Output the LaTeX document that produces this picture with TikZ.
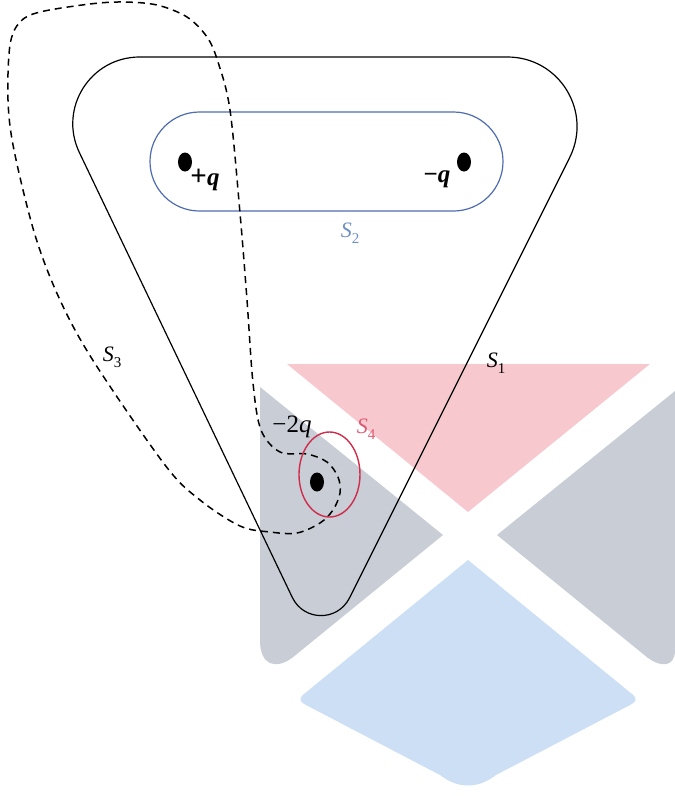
\documentclass[tikz,border=0pt]{standalone}
\usepackage{fontspec}
\setmainfont{Liberation Serif}
\usetikzlibrary{calc,shapes.geometric}
\definecolor{wmpink}{RGB}{248,200,207}
\definecolor{wmgray}{RGB}{200,205,214}
\definecolor{wmblue}{RGB}{204,223,245}
\definecolor{stwoblue}{RGB}{78,108,178}
\definecolor{stwolab}{RGB}{110,145,195}
\definecolor{sfourred}{RGB}{208,44,76}
\definecolor{sfourlab}{RGB}{222,90,115}
\newcommand\surflab[2]{\textit{#1}\raisebox{-0.28em}{\fontsize{15}{15}\selectfont #2}}
\tikzset{
  surf/.style={line width=1.2pt},
  gauss/.style={line width=1.5pt, dash pattern=on 7pt off 5pt},
  charge/.style={ellipse, fill=black, inner sep=0pt, minimum width=14pt, minimum height=19pt},
  qlab/.style={inner sep=1pt, font=\fontsize{25}{30}\selectfont},
  slab/.style={inner sep=1pt, font=\fontsize{22}{26}\selectfont}
}
\begin{document}
\begin{tikzpicture}[x=1pt,y=-1pt]
\useasboundingbox (0,0) rectangle (675,796);
% watermark background
\fill[wmpink] (287,364) -- (650,364) -- (468,512) -- cycle;
\fill[wmgray] (260,387) -- (443,535) -- (292,658) .. controls (275,670) and (260,665) .. (260,640) -- cycle;
\fill[wmgray] (675,391) -- (497,535) -- (648,658) .. controls (660,667) and (675,668) .. (675,650) -- cycle;
\fill[wmblue] (468,560) -- (632,694) .. controls (638,699) and (636,702) .. (630,705) -- (496,775) .. controls (478,789) and (458,789) .. (440,775) -- (306,705) .. controls (300,702) and (298,699) .. (304,694) -- cycle;
% S1 rounded triangle
\coordinate (VTL) at (33.7,57);
\coordinate (VTR) at (620,57);
\coordinate (VB) at (320.4,656);
\coordinate (A1) at (139.7,57);
\coordinate (A2) at (507.4,57);
\coordinate (B1) at (569.6,157.7);
\coordinate (B2) at (349.5,597.9);
\coordinate (C1) at (292.3,597.4);
\coordinate (C2) at (79.4,152.6);
\draw[surf] (A1) -- (A2)
  .. controls ($(A2)!0.46!(VTR)$) and ($(B1)!0.46!(VTR)$) .. (B1)
  -- (B2)
  .. controls ($(B2)!0.41!(VB)$) and ($(C1)!0.41!(VB)$) .. (C1)
  -- (C2)
  .. controls ($(C2)!0.465!(VTL)$) and ($(A1)!0.465!(VTL)$) .. (A1);
% S2 stadium
\draw[stwoblue, line width=1.2pt, rounded corners=49.5pt] (150,112) rectangle (503,211);
% S3 dashed
\draw[gauss] plot[smooth cycle, tension=0.55] coordinates {
 (40,12) (90,4) (123,2) (157,5) (187,17) (207,37) (218,62) (230,110) (240,213)
 (247,300) (253,383) (261,430) (280,452) (307,454) (327,462) (338,477) (340,493)
 (333,510) (320,523) (297,533) (270,532) (240,526) (200,500) (165,465)
 (94,362) (60,300) (35,235) (14,150) (8,100) (10,45) (20,22)};
% S4 red ellipse
\draw[sfourred, line width=1.4pt] (329.5,474.5) ellipse [x radius=30.5, y radius=42.5];
% charges
\node[charge] (qp) at (185,162) {};
\node[charge] (qm) at (464,162) {};
\node[charge] (q2) at (317,482) {};
\node[qlab] (lqp) at (205,180) {\textbf{{\fontsize{29}{30}\selectfont +}\textit{q}}};
\node[qlab] (lqm) at (437,179) {\textbf{−\textit{q}}};
\node[qlab] (lq2) at (292,427) {−2\textit{q}};
% surface labels
\node[slab, text=stwolab] (ls2) at (350,233) {\surflab{S}{2}};
\node[slab] (ls3) at (112,357) {\surflab{S}{3}};
\node[slab, text=sfourlab] (ls4) at (366,429) {\surflab{S}{4}};
\node[slab] (ls1) at (496,363) {\surflab{S}{1}};
\end{tikzpicture}
\end{document}
